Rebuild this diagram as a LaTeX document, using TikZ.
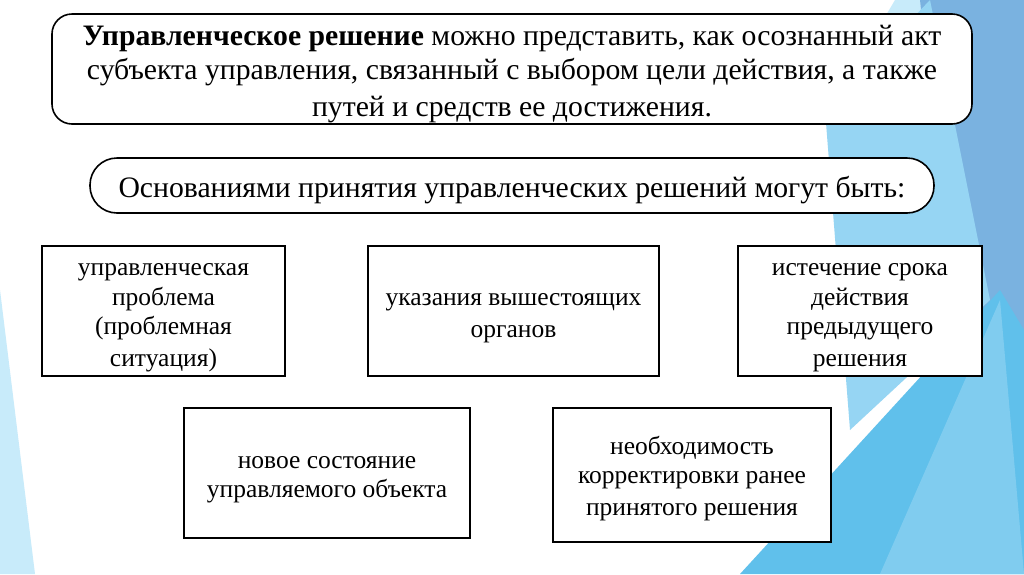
\documentclass[tikz,border=0pt]{standalone}
\usepackage{fontspec}
\setmainfont{Liberation Serif}
\usepackage{xcolor}
\definecolor{facetdark}{RGB}{122,178,224}
\definecolor{facetmid}{RGB}{96,192,235}
\definecolor{facetlite}{RGB}{150,213,243}
\definecolor{facetpale}{RGB}{200,235,250}
% line box of the font, as the slide centres it
\newcommand\lnstrut{\rule[-0.15em]{0pt}{1.15em}}

\begin{document}
\begin{tikzpicture}[
    x=1pt,y=-1pt,
    rbox/.style={draw=black,line width=1.6pt,fill=white,rounded corners=20pt,
                 align=center,inner sep=0pt,font=\fontsize{29.7}{34}\selectfont},
    sbox/.style={draw=black,line width=1.2pt,fill=white,align=center,inner sep=0pt,
                 font=\fontsize{25.5}{29.5}\selectfont},
  ]
  \useasboundingbox (0,0) rectangle (1024,574);
  \fill[white] (0,0) rectangle (1024,574);

  % -- background facets --
  \fill[facetpale] (0,290) -- (35,574) -- (0,574) -- cycle;
  \fill[facetpale] (895,0) -- (930,0) -- (830,110) -- cycle;
  \fill[facetdark] (920,0) -- (1024,0) -- (1024,574) -- (980,574) -- cycle;
  \fill[facetlite] (930,0) -- (990,300) -- (850,430) -- (825,110) -- cycle;
  \fill[facetmid] (1000,290) -- (1024,330) -- (1024,574) -- (740,574) -- cycle;
  \fill[facetlite,opacity=.6] (880,574) -- (1000,300) -- (1024,574) -- cycle;

  % -- the two headings --
  \node[rbox,minimum width=920pt,minimum height=110pt] (defn) at (512,69)
       {\lnstrut\textbf{Управленческое решение} можно представить, как осознанный акт\\
        субъекта управления, связанный с выбором цели действия, а также\\
        путей и средств ее достижения.\lnstrut};
  \node[rbox,rounded corners=27pt,minimum width=844pt,minimum height=55pt]
       (bases) at (512,185.5)
       {\lnstrut Основаниями принятия управленческих решений могут быть:};

  % -- the grounds --
  \node[sbox,minimum width=243pt,minimum height=130pt] (prob) at (163.5,311)
       {\lnstrut управленческая\\проблема\\(проблемная\\ситуация)\lnstrut};
  \node[sbox,minimum width=291pt,minimum height=130pt] (ordr) at (513.5,311)
       {\lnstrut указания вышестоящих\\органов\lnstrut};
  \node[sbox,minimum width=244pt,minimum height=130pt] (expr) at (860,311)
       {\lnstrut истечение срока\\действия\\предыдущего\\решения\lnstrut};
  \node[sbox,minimum width=286pt,minimum height=130pt] (newst) at (327,473)
       {\lnstrut новое состояние\\управляемого объекта\lnstrut};
  \node[sbox,minimum width=278pt,minimum height=134pt] (corr) at (692,475)
       {\lnstrut необходимость\\корректировки ранее\\принятого решения\lnstrut};
\end{tikzpicture}
\end{document}
